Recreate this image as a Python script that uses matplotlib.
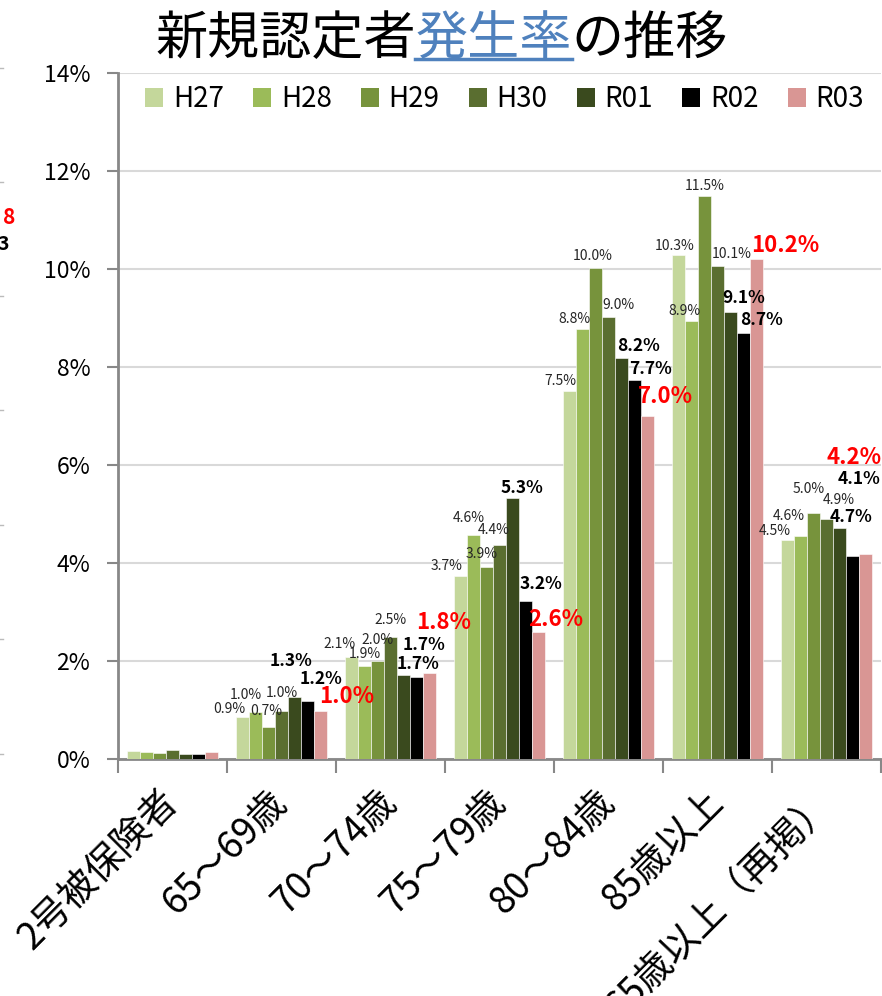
import matplotlib
matplotlib.use('Agg')
import matplotlib.pyplot as plt
import matplotlib.transforms as mtrans
import numpy as np
from matplotlib.patches import Patch
from matplotlib.lines import Line2D

plt.rcParams['font.family'] = ['Noto Sans CJK JP', 'DejaVu Sans']

categories = ['2号被保険者', '65～69歳', '70～74歳', '75～79歳', '80～84歳', '85歳以上', '65歳以上（再掲）']
years = ['H27', 'H28', 'H29', 'H30', 'R01', 'R02', 'R03']
h27 = [0.16, 0.86, 2.08, 3.73, 7.51, 10.29, 4.46]
h28 = [0.15, 0.96, 1.90, 4.57, 8.78, 8.94, 4.56]
h29 = [0.12, 0.66, 2.00, 3.92, 10.02, 11.49, 5.02]
h30 = [0.18, 0.98, 2.49, 4.37, 9.02, 10.06, 4.90]
r01 = [0.10, 1.27, 1.71, 5.33, 8.18, 9.12, 4.71]
r02 = [0.11, 1.19, 1.68, 3.22, 7.73, 8.69, 4.14]
r03 = [0.14, 0.98, 1.76, 2.59, 7.00, 10.20, 4.18]
series = [h27, h28, h29, h30, r01, r02, r03]
y_ticks = [0, 2, 4, 6, 8, 10, 12, 14]

colors = ['#c4d79b', '#9bbb59', '#77933c', '#5a6e30', '#3a4a1e', '#000000', '#d99694']

# label offsets (pixels) relative to bar top centre, for categories 1..6
offsets = [
    [(-14, 8), (-12, 13), (-14, 10), (-10, 10), (-4, 9), (-13, 9)],
    [(-10, 17), (0, 12), (-5, 17), (-8, 10), (-7, 10), (-12, 20)],
    [(-2, 16), (0, 21), (-5, 13), (-3, 12), (0, 10), (-5, 24)],
    [(0, 18), (0, 17), (-6, 15), (10, 12), (14, 12), (12, 19)],
    [(-3, 36), (21, 30), (10, 10), (17, 12), (13, 14), (12, 11)],
    [(14, 22), (2, 13), (16, 17), (16, 11), (18, 13), (7, 77)],
    [(27, 14), (15, 50), (18, 13), (18, 20), (29, 14), (-11, 97)],
]

W, H = 882, 996
fig = plt.figure(figsize=(W / 100, H / 100), dpi=100)
ax = fig.add_axes([118 / W, 1 - 759 / H, (881 - 118) / W, (759 - 73) / H])

n = len(categories)
x = np.arange(n)
bw = 0.118
for j, (vals, c) in enumerate(zip(series, colors)):
    ax.bar(x + (j - 3) * bw, vals, width=bw, color=c, edgecolor='white',
           linewidth=0.4, label=years[j], zorder=3)

# data labels
for j, vals in enumerate(series):
    for i in range(1, n):
        v = vals[i]
        dx, dy = offsets[j][i - 1]
        if j <= 3:
            kw = dict(fontsize=10, color='#262626', fontweight='normal')
        elif j <= 5:
            kw = dict(fontsize=12.5, color='black', fontweight='bold')
        else:
            kw = dict(fontsize=16, color='#ff0000', fontweight='bold')
        ax.annotate(f'{v:.1f}%', (x[i] + (j - 3) * bw, v), xytext=(dx, dy),
                    textcoords='offset pixels', ha='center', va='center',
                    zorder=5, **kw)

ax.set_xlim(-0.5, n - 0.5)
ax.set_ylim(0, 14)
ax.set_yticks(y_ticks)
ax.set_yticklabels([f'{t}%' for t in y_ticks], fontsize=16.5)
ax.grid(axis='y', color='#d9d9d9', linewidth=1.5, zorder=0)
ax.set_axisbelow(True)

ax.set_xticks(x)
ax.set_xticklabels(categories, rotation=45, ha='right', va='center',
                   rotation_mode='anchor', fontsize=27)
shift = mtrans.ScaledTranslation(5 / 100, 0, fig.dpi_scale_trans)
for lab in ax.get_xticklabels():
    lab.set_transform(lab.get_transform() + shift)
ax.set_xticks(np.arange(n + 1) - 0.5, minor=True)
ax.tick_params(axis='x', which='major', length=0, pad=27)
ax.tick_params(axis='x', which='minor', length=10, width=1.5, color='#888888', direction='out')
ax.tick_params(axis='y', length=8, width=1.5, color='#888888', pad=12)

for s in ['top', 'right']:
    ax.spines[s].set_visible(False)
for s in ['left', 'bottom']:
    ax.spines[s].set_color('#888888')
    ax.spines[s].set_linewidth(2)

handles = [Patch(facecolor=c, edgecolor='none') for c in colors]
ax.legend(handles, years, loc='upper center', bbox_to_anchor=(0.5066, 1.0),
          ncol=7, frameon=False, fontsize=20, handlelength=0.65, handleheight=0.65,
          handletextpad=0.35, columnspacing=1.05, borderaxespad=0.0)

# title
fs = 37.5
em = fs * 100 / 72
x0 = 155
base_y = 1 - 54 / H
fig.text(x0 / W, base_y, '新規認定者', fontsize=fs, color='black', va='baseline', ha='left')
fig.text((x0 + 5 * em) / W, base_y, '発生率', fontsize=fs, color='#4f81bd', va='baseline', ha='left')
fig.text((x0 + 8 * em) / W, base_y, 'の推移', fontsize=fs, color='black', va='baseline', ha='left')
fig.add_artist(Line2D([(x0 + 5 * em) / W, (x0 + 8 * em) / W], [1 - 59 / H, 1 - 59 / H],
                      color='#4f81bd', linewidth=2.5))

# cropped remnants of neighbouring chart at left edge
fig.text(15 / W, 1 - 217 / H, '8', fontsize=15, color='#ff0000', fontweight='bold', ha='right', va='center')
fig.text(9 / W, 1 - 245 / H, '3', fontsize=14, color='black', fontweight='bold', ha='right', va='center')
for yy in [68, 182, 296, 410, 525, 639, 754]:
    fig.add_artist(Line2D([0, 3 / W], [1 - yy / H, 1 - yy / H], color='#bbbbbb', linewidth=1))

fig.savefig('out.png', dpi=100)
